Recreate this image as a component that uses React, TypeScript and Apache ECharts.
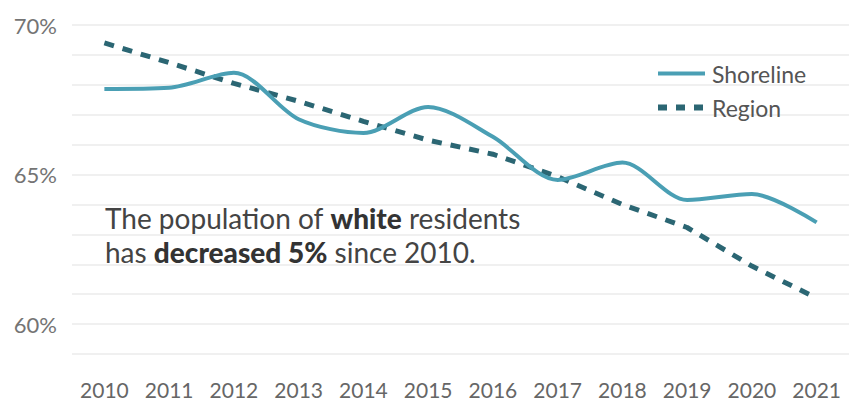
import React, { useEffect, useRef } from "react";
import * as echarts from "echarts";

const years = ["2010", "2011", "2012", "2013", "2014", "2015", "2016", "2017", "2018", "2019", "2020", "2021"];
const shoreline = [67.86, 67.9, 68.4, 66.85, 66.39, 67.26, 66.26, 64.82, 65.4, 64.15, 64.35, 63.4];
const region = [69.4, 68.74, 68.05, 67.45, 66.78, 66.15, 65.68, 64.93, 64.0, 63.23, 61.94, 60.87];
const seriesNames = ["Shoreline", "Region"];
const annotationLine1 = ["The population of ", "white", " residents"];
const annotationLine2 = ["has ", "decreased 5%", " since 2010."];

const FONT = "Lato, 'Open Sans', sans-serif";
const C_SHORE = "#4a9fb4";
const C_REGION = "#2b6673";

export default function App() {
  const ref = useRef<HTMLDivElement>(null);
  useEffect(() => {
    if (!ref.current) return;
    const chart = echarts.init(ref.current, undefined, { renderer: "svg" });
    chart.setOption({
      animation: false,
      backgroundColor: "#ffffff",
      grid: { left: 72, right: -3, top: 25, bottom: 48, containLabel: false },
      legend: {
        orient: "vertical",
        left: 650,
        top: 57,
        itemWidth: 47,
        itemHeight: 12,
        itemGap: 11,
        itemStyle: { opacity: 0 },
        textStyle: { fontFamily: FONT, fontSize: 23, color: "#555", padding: [0, 0, 0, 2] },
        data: [
          { name: seriesNames[0], itemStyle: { opacity: 0 }, lineStyle: { color: C_SHORE, width: 4 } },
          { name: seriesNames[1], itemStyle: { opacity: 0 }, lineStyle: { color: C_REGION, width: 6, type: [9, 9] } },
        ],
      },
      xAxis: {
        type: "category",
        data: years,
        boundaryGap: true,
        axisLine: { show: false },
        axisTick: { show: false },
        axisLabel: { fontFamily: FONT, fontSize: 21, color: "#666", margin: 25 },
        splitLine: { show: false },
      },
      yAxis: {
        type: "value",
        min: 59,
        max: 70,
        interval: 1,
        axisLine: { show: false },
        axisTick: { show: false },
        axisLabel: {
          fontFamily: FONT,
          fontSize: 22,
          color: "#747474",
          margin: 15,
          formatter: (v: number) => (v % 5 === 0 ? v + "%" : ""),
        },
        splitLine: { show: true, lineStyle: { color: "#ebebeb", width: 1.5 } },
      },
      series: [
        {
          name: seriesNames[0],
          type: "line",
          data: shoreline,
          smooth: 0.3,
          symbol: "none",
          lineStyle: { color: C_SHORE, width: 4 },
          itemStyle: { color: C_SHORE },
          z: 3,
        },
        {
          name: seriesNames[1],
          type: "line",
          data: region,
          smooth: false,
          symbol: "none",
          lineStyle: { color: C_REGION, width: 5, type: [10, 9] },
          itemStyle: { color: C_REGION },
          z: 2,
        },
      ],
      graphic: [
        {
          type: "text",
          left: 105,
          top: 201,
          style: {
            text:
              annotationLine1[0] + "{b|" + annotationLine1[1] + "}" + annotationLine1[2] + "\n" +
              annotationLine2[0] + "{b|" + annotationLine2[1] + "}" + annotationLine2[2],
            fontFamily: FONT,
            fontSize: 28,
            lineHeight: 34,
            fill: "#444",
            rich: {
              b: { fontFamily: FONT, fontSize: 28, fontWeight: 900, fill: "#333", lineHeight: 34 },
            },
          },
        },
      ],
    });
    return () => chart.dispose();
  }, []);
  return <div ref={ref} style={{ width: 849, height: 402, position: "absolute", left: 0, top: 0 }} />;
}
